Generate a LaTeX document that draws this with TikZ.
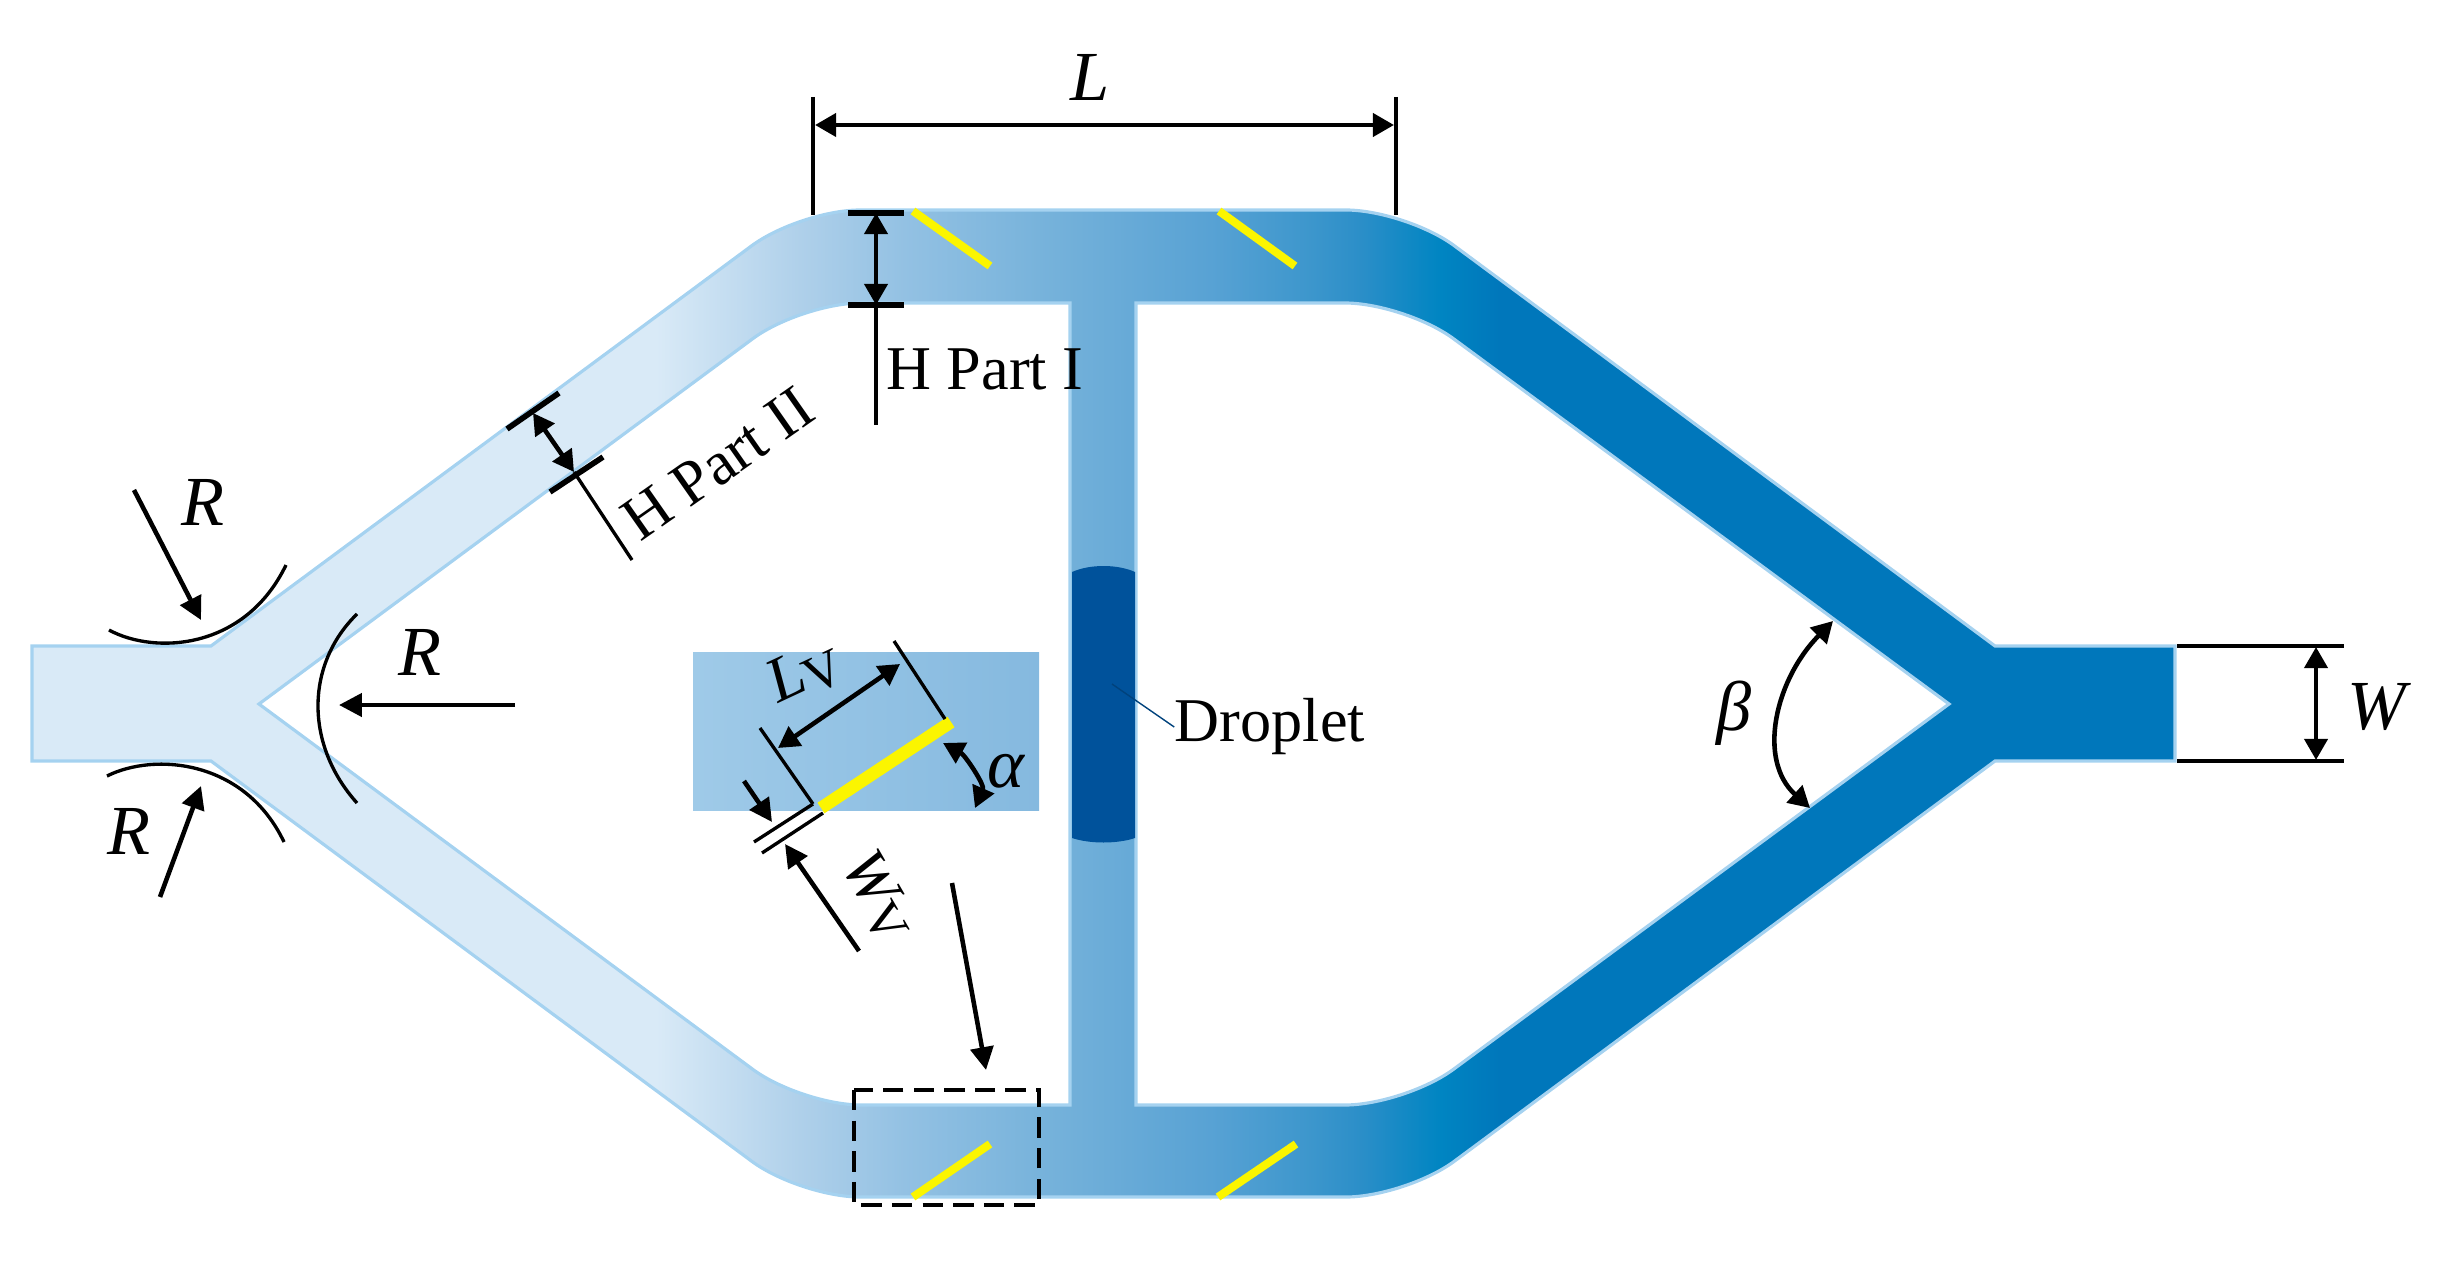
\documentclass[tikz,border=0pt]{standalone}
\usepackage{fontspec}
\setmainfont{Liberation Serif}
\usetikzlibrary{arrows.meta}

\definecolor{chedge}{HTML}{A5D2F0}
\definecolor{dropblue}{HTML}{00529B}
\definecolor{slotyellow}{HTML}{FBF500}
\definecolor{chA}{HTML}{D9EAF7}
\definecolor{chB}{HTML}{AFD0EA}
\definecolor{chC}{HTML}{93C1E3}
\definecolor{chD}{HTML}{74B1DA}
\definecolor{chE}{HTML}{58A2D4}
\definecolor{chF}{HTML}{3C96CC}
\definecolor{chG}{HTML}{2A8EC8}
\definecolor{chH}{HTML}{0085C2}
\definecolor{chI}{HTML}{0077BB}
\definecolor{insetA}{HTML}{9FCAE8}
\definecolor{insetB}{HTML}{85B9DF}
\pgfdeclarehorizontalshading{chgrad}{100bp}{
color(0bp)=(chA); color(39.56bp)=(chA); color(42.92bp)=(chB); color(45.35bp)=(chC);
color(48.92bp)=(chD); color(52.49bp)=(chE); color(54.87bp)=(chF); color(56.05bp)=(chG);
color(57.85bp)=(chH); color(59.25bp)=(chI); color(100bp)=(chI)}

\newcommand{\channelpath}{(32,646) -- (211,646) [rounded corners=6mm] -- (800,210) -- (1406,210) [sharp corners] -- (1995,646) -- (2175,646) -- (2175,761) -- (1995,761) [rounded corners=6mm] -- (1406,1197) -- (800,1197) [sharp corners] -- (211,761) -- (32,761) -- cycle
  (259,704) [rounded corners=6mm] -- (801,303) [sharp corners] -- (1070,303) -- (1070,1105) [rounded corners=6mm] -- (801,1105) [sharp corners] -- cycle
  (1949,704) [rounded corners=6mm] -- (1405,303) [sharp corners] -- (1136,303) -- (1136,1105) [rounded corners=6mm] -- (1405,1105) [sharp corners] -- cycle}

\tikzset{
  dimarrow/.style={line width=1.3pt,{Triangle[length=6pt,width=6.5pt]}-{Triangle[length=6pt,width=6.5pt]}},
  onearrow/.style={line width=1.3pt,-{Triangle[length=6.5pt,width=6.5pt]}},
  thinline/.style={line width=0.95pt},
  tickline/.style={line width=1.6pt},
  slot/.style={slotyellow,line width=2.3pt},
  plaintext/.style={font=\fontsize{17.7}{20}\selectfont,inner sep=0pt},
  symtext/.style={font=\fontsize{20}{22}\selectfont\itshape,inner sep=0pt},
  subtext/.style={font=\fontsize{18}{20}\selectfont\itshape,inner sep=0pt},
}

\begin{document}
\begin{tikzpicture}[x=0.01cm,y=-0.01cm]
\useasboundingbox (0,0) rectangle (2449,1261);

% channel
\path[shading=chgrad,even odd rule] \channelpath;
\draw[chedge,line width=0.9pt] \channelpath;

% droplet
\fill[dropblue] (1072,572) .. controls (1090,564) and (1117,564) .. (1135,572) -- (1135,838) .. controls (1117,844) and (1090,844) .. (1072,838) -- cycle;
\coordinate (dropin) at (1112,684);
\node[plaintext] (droptext) at (1270,727) {Droplet};
\draw[dropblue!80!black,line width=0.4pt] (dropin) -- (droptext.west);

% slots
\draw[slot] (913,211) -- (990,266);
\draw[slot] (1219,211) -- (1295,266);
\draw[slot] (913,1197) -- (990,1144);
\draw[slot] (1218,1197) -- (1296,1144);

% inset
\shade[left color=insetA,right color=insetB] (693,652) rectangle (1039,810);
\coordinate (va) at (821,808);
\coordinate (vb) at (951,722);
\draw[slotyellow,line width=3.6pt] (va) -- (vb);
\draw[thinline] (760,728) -- (813,804);
\draw[thinline] (894,641) -- (945,719);
\draw[dimarrow] (778,748) -- (900,664);
\node[subtext,rotate=25] (lvtext) at (805,673) {L\raisebox{-2pt}{\fontsize{15}{16}\selectfont\upshape V}};
\draw[thinline] (754,842) -- (813,804);
\draw[thinline] (762,853) -- (823,813);
\draw[onearrow] (744,781) -- (772,822);
\draw[onearrow] (859,951) -- (785,844);
\node[subtext,rotate=-60] (wvtext) at (878,896) {W\raisebox{-2pt}{\fontsize{15}{16}\selectfont\upshape V}};
\draw[dimarrow] (943,743) .. controls (965,755) and (985,785) .. (975,808);
\node[symtext] (alphatext) at (1006,771) {α};

% dashed box and its arrow
\draw[line width=1.4pt,dash pattern=on 5.8pt off 2.9pt] (854,1090) rectangle (1039,1205);
\draw[onearrow] (952,883) -- (986,1070);

% radii
\draw[thinline] (109,630) .. controls (155,655) and (245,650) .. (286,565);
\draw[thinline] (107,776) .. controls (155,752) and (245,760) .. (284,842);
\draw[thinline] (357,614) .. controls (305,665) and (305,745) .. (357,803);
\draw[onearrow] (134,490) -- (201,620);
\draw[onearrow] (515,705) -- (339,705);
\draw[onearrow] (160,897) -- (201,786);
\node[symtext] (ra) at (203,502) {R};
\node[symtext] (rb) at (420,652) {R};
\node[symtext] (rc) at (129,831) {R};

% H part II
\draw[tickline] (507,429) -- (559,393);
\draw[tickline] (550,492) -- (603,457);
\draw[dimarrow] (533,413) -- (574,472);
\draw[thinline] (574,472) -- (632,560);
\node[plaintext,rotate=35] (hpartb) at (718,464) {H Part II};

% H part I
\draw[tickline] (848,213) -- (904,213);
\draw[tickline] (848,305) -- (904,305);
\draw[dimarrow] (876,213) -- (876,305);
\draw[thinline] (876,305) -- (876,425);
\node[plaintext] (hparta) at (985,369) {H Part I};

% L
\draw[thinline] (813,97) -- (813,215);
\draw[thinline] (1396,97) -- (1396,215);
\draw[dimarrow] (815,125) -- (1394,125);
\node[symtext] (ltext) at (1090,77) {L};

% beta and W
\draw[dimarrow] (1833,621) .. controls (1775,680) and (1757,760) .. (1810,808);
\node[symtext] (betatext) at (1734,713) {β};
\draw[thinline] (2177,646) -- (2344,646);
\draw[thinline] (2177,761) -- (2344,761);
\draw[dimarrow] (2316,647) -- (2316,760);
\node[symtext] (wtext) at (2377,707) {W};

\end{tikzpicture}
\end{document}
